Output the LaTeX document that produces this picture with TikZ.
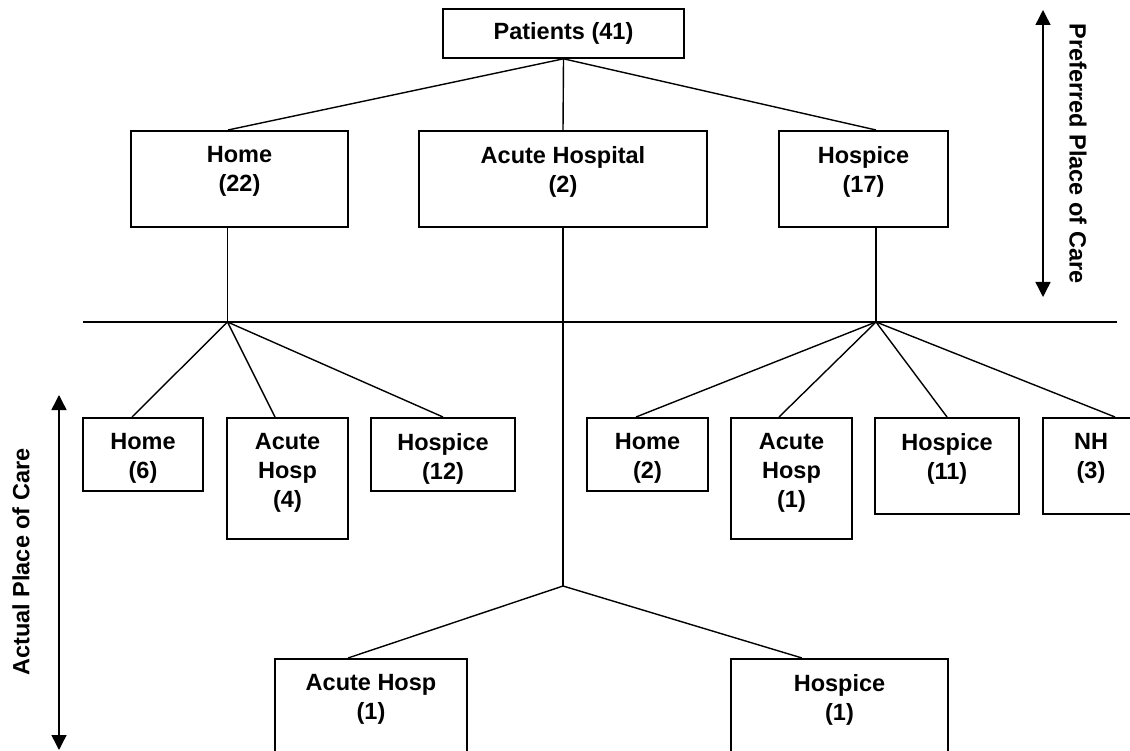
\documentclass[tikz,border=0pt]{standalone}
\usepackage{fontspec}
\setmainfont{Liberation Sans}
\usetikzlibrary{arrows.meta}

\newcommand{\placefont}{\bfseries\fontsize{23.5}{29}\selectfont}
\tikzset{
  place/.style={draw, line width=1.6pt, inner sep=0pt, anchor=north},
  caption/.style={anchor=north, align=center, font=\placefont, inner sep=0pt,
    yshift=-16pt},
  side/.style={font=\placefont, inner sep=0pt},
}

\begin{document}
\begin{tikzpicture}[x=1pt,y=-1pt,line width=1.4pt,>={Triangle[width=15pt,length=15pt]}]
  \clip (0,0) rectangle (1130,751);

  % preferred place of care
  \node[place, anchor=center, minimum width=241pt, minimum height=49pt, font=\placefont]
    (patients) at (563.5,33.5) {Patients (41)};
  \node[place, minimum width=217pt, minimum height=96pt,
    label={[caption]north:{Home\\(22)}}] (prefHome) at (239.5,130) {};
  \node[place, minimum width=288pt, minimum height=96pt,
    label={[caption]north:{Acute Hospital\\(2)}}] (prefAcute) at (563,130) {};
  \node[place, minimum width=169pt, minimum height=96pt,
    label={[caption]north:{Hospice\\(17)}}] (prefHospice) at (863.5,130) {};

  \coordinate (divL) at (83,322);
  \coordinate (divR) at (1117,322);
  \coordinate (fanHome) at (227.5,322);
  \coordinate (fanHospice) at (876,322);
  \coordinate (fanAcute) at (563,586);

  % actual place of care
  \node[place, minimum width=120pt, minimum height=73pt,
    label={[caption]north:{Home\\(6)}}] (homeHome) at (143,417) {};
  \node[place, minimum width=121pt, minimum height=121pt,
    label={[caption]north:{Acute\\Hosp\\(4)}}] (homeAcute) at (287.5,417) {};
  \node[place, minimum width=144pt, minimum height=73pt,
    label={[caption]north:{Hospice\\(12)}}] (homeHospice) at (443,417) {};
  \node[place, minimum width=121pt, minimum height=73pt,
    label={[caption]north:{Home\\(2)}}] (hospHome) at (647.5,417) {};
  \node[place, minimum width=121pt, minimum height=121pt,
    label={[caption]north:{Acute\\Hosp\\(1)}}] (hospAcute) at (791.5,417) {};
  \node[place, minimum width=144pt, minimum height=96pt,
    label={[caption]north:{Hospice\\(11)}}] (hospHospice) at (947,417) {};
  \node[place, minimum width=96pt, minimum height=96pt,
    label={[caption]north:{NH\\(3)}}] (hospNH) at (1091,417) {};
  \node[place, minimum width=192pt, minimum height=120pt,
    label={[caption]north:{Acute Hosp\\(1)}}] (acuteAcute) at (371,658) {};
  \node[place, minimum width=217pt, minimum height=120pt,
    label={[caption]north:{Hospice\\(1)}}] (acuteHospice) at (839.5,658) {};

  \draw (patients.south) -- ([xshift=-11.5pt]prefHome.north);
  \draw (patients.south) -- (prefAcute.north);
  \draw (patients.south) -- ([xshift=12.5pt]prefHospice.north);

  \draw[line width=1.7pt] (divL) -- (divR);
  \draw ([xshift=-12pt]prefHome.south) -- (fanHome);
  \draw ([xshift=12.5pt]prefHospice.south) -- (fanHospice);
  \draw (prefAcute.south) -- (fanAcute);

  \draw (fanHome) -- ([xshift=-11pt]homeHome.north);
  \draw (fanHome) -- ([xshift=-12.5pt]homeAcute.north);
  \draw (fanHome) -- (homeHospice.north);
  \draw (fanHospice) -- ([xshift=-11.5pt]hospHome.north);
  \draw (fanHospice) -- ([xshift=-12.5pt]hospAcute.north);
  \draw (fanHospice) -- (hospHospice.north);
  \draw (fanHospice) -- ([xshift=24pt]hospNH.north);
  \draw (fanAcute) -- ([xshift=-23pt]acuteAcute.north);
  \draw (fanAcute) -- ([xshift=-37.5pt]acuteHospice.north);

  % side arrows
  \coordinate (prefTop) at (1043,10);
  \coordinate (prefBot) at (1043,297);
  \coordinate (actTop) at (59,395);
  \coordinate (actBot) at (59,750);
  \draw[<->] (prefTop) -- (prefBot);
  \draw[<->] (actTop) -- (actBot);
  \node[side, rotate=-90] (prefLabel) at (1078,153.5) {Preferred Place of Care};
  \node[side, rotate=90] (actLabel) at (21,562) {Actual Place of Care};
\end{tikzpicture}
\end{document}
